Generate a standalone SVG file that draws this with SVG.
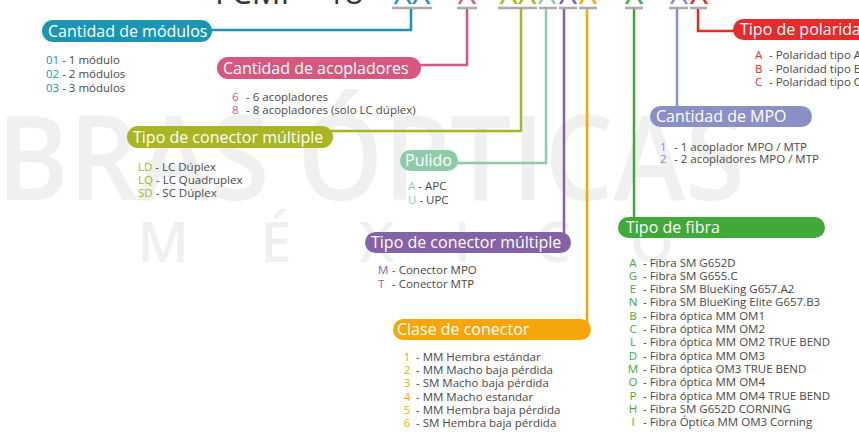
<svg xmlns="http://www.w3.org/2000/svg" width="859" height="442" viewBox="0 0 859 442">
<style>
.wm{font-family:"Open Sans","DejaVu Sans",sans-serif;font-weight:600;fill:#f0f0f0}
.title{font-family:"Open Sans","DejaVu Sans",sans-serif;font-size:32px;fill:#333}
.ul{stroke:#aaaaaa;stroke-width:2.5;fill:none}
.lab{font-family:"Open Sans","DejaVu Sans",sans-serif;font-size:16px;fill:#fff}
.it{font-family:"Open Sans","DejaVu Sans",sans-serif;font-size:11.5px;fill:#484848}
.con{fill:none;stroke-width:2.5}
</style>
<g id="watermark">
<text class="wm" x="-94" y="200" font-size="118" textLength="839" lengthAdjust="spacingAndGlyphs">FIBRAS ÓPTICAS</text>
<text class="wm" y="262" font-size="56" text-anchor="middle"><tspan x="163">M</tspan><tspan x="276">É</tspan><tspan x="377">X</tspan><tspan x="462">I</tspan><tspan x="553">C</tspan><tspan x="652">O</tspan></text>
</g>
<g id="title">
<text class="title" x="215" y="4">FCMP - 18 -</text>
<text class="title" y="4" text-anchor="middle"><tspan x="412" fill="#1b95b1">XX</tspan><tspan x="467" fill="#d6587f">X</tspan><tspan x="518" fill="#a9b523">XX</tspan><tspan x="547" fill="#8fcbab">X</tspan><tspan x="568" fill="#8462a8">X</tspan><tspan x="588" fill="#f5a70a">X</tspan><tspan x="634" fill="#41a83a">X</tspan><tspan x="679" fill="#8b8fc7">X</tspan><tspan x="699" fill="#e52b2b">X</tspan></text>
<path class="ul" d="M392 8H432M457 8H477M498 8H537M539 8H557M559 8H577M579 8H597M625 8H643M669 8H688M690 8H707"/>
</g>
<g id="connectors">
<polyline class="con" stroke="#1b95b1" points="411,9 411,30 210,30"/>
<polyline class="con" stroke="#d6587f" points="467,9 467,65 418,65"/>
<polyline class="con" stroke="#a9b523" points="521,9 521,131 330,131"/>
<polyline class="con" stroke="#8fcbab" points="546,9 546,163 455,163"/>
<polyline class="con" stroke="#8462a8" points="564,9 564,238"/>
<polyline class="con" stroke="#f5a70a" points="587,9 587,322"/>
<polyline class="con" stroke="#41a83a" points="634,9 634,220"/>
<polyline class="con" stroke="#8b8fc7" points="677,9 677,108"/>
<polyline class="con" stroke="#e52b2b" points="698,9 698,31 738,31"/>
</g>
<g id="modulos">
<rect x="42" y="20" width="170" height="22" rx="11" fill="#1b95b1"/>
<text class="lab" x="48" y="37">Cantidad de módulos</text>
<text class="it" x="46" y="64"><tspan fill="#1b95b1">01</tspan> - 1 módulo</text>
<text class="it" x="46" y="78"><tspan fill="#1b95b1">02</tspan> - 2 módulos</text>
<text class="it" x="46" y="92"><tspan fill="#1b95b1">03</tspan> - 3 módulos</text>
</g>
<g id="acopladores">
<rect x="217" y="57" width="204" height="22" rx="11" fill="#d6587f"/>
<text class="lab" x="223" y="74">Cantidad de acopladores</text>
<text class="it" x="232" y="101"><tspan fill="#d6587f">6</tspan><tspan x="246">- 6 acopladores</tspan></text>
<text class="it" x="232" y="114"><tspan fill="#d6587f">8</tspan><tspan x="246">- 8 acopladores  (solo LC dúplex)</tspan></text>
</g>
<g id="polaridad">
<rect x="733" y="19" width="150" height="21" rx="10.5" fill="#e52b2b"/>
<text class="lab" x="740" y="35">Tipo de polaridad</text>
<text class="it" x="755" y="59"><tspan fill="#e52b2b">A</tspan><tspan x="769">- Polaridad tipo A</tspan></text>
<text class="it" x="755" y="73"><tspan fill="#e52b2b">B</tspan><tspan x="769">- Polaridad tipo B</tspan></text>
<text class="it" x="755" y="86"><tspan fill="#e52b2b">C</tspan><tspan x="769">- Polaridad tipo C</tspan></text>
</g>
<g id="conector-multiple-1">
<rect x="127" y="126" width="206" height="22" rx="11" fill="#a9b523"/>
<text class="lab" x="133" y="143">Tipo de conector múltiple</text>
<text class="it" x="138" y="171"><tspan fill="#a9b523">LD</tspan> - LC Dúplex</text>
<text class="it" x="138" y="184"><tspan fill="#a9b523">LQ</tspan> - LC Quadruplex</text>
<text class="it" x="138" y="197"><tspan fill="#a9b523">SD</tspan> - SC Dúplex</text>
</g>
<g id="pulido">
<rect x="400" y="150" width="58" height="21" rx="10.5" fill="#8fcbab"/>
<text class="lab" x="405" y="166">Pulido</text>
<text class="it" x="408" y="190"><tspan fill="#8fcbab">A</tspan> - APC</text>
<text class="it" x="408" y="204"><tspan fill="#8fcbab">U</tspan> - UPC</text>
</g>
<g id="mpo">
<rect x="650" y="106" width="162" height="21" rx="10.5" fill="#8b8fc7"/>
<text class="lab" x="656" y="122">Cantidad de MPO</text>
<text class="it" x="660" y="151"><tspan fill="#8b8fc7">1</tspan><tspan x="674">- 1 acoplador MPO / MTP</tspan></text>
<text class="it" x="660" y="163"><tspan fill="#8b8fc7">2</tspan><tspan x="674">- 2 acopladores MPO / MTP</tspan></text>
</g>
<g id="fibra">
<rect x="618" y="217" width="207" height="21" rx="10.5" fill="#41a83a"/>
<text class="lab" x="626" y="233">Tipo de fibra</text>
<g class="it">
<text x="633" y="266.5" text-anchor="middle" fill="#41a83a">A</text><text x="643" y="266.5">- Fibra SM G652D</text>
<text x="633" y="279.8" text-anchor="middle" fill="#41a83a">G</text><text x="643" y="279.8">- Fibra SM G655.C</text>
<text x="633" y="293.1" text-anchor="middle" fill="#41a83a">E</text><text x="643" y="293.1">- Fibra SM BlueKing G657.A2</text>
<text x="633" y="306.4" text-anchor="middle" fill="#41a83a">N</text><text x="643" y="306.4">- Fibra SM BlueKing Elite G657.B3</text>
<text x="633" y="319.7" text-anchor="middle" fill="#41a83a">B</text><text x="643" y="319.7">- Fibra óptica MM OM1</text>
<text x="633" y="333" text-anchor="middle" fill="#41a83a">C</text><text x="643" y="333">- Fibra óptica MM OM2</text>
<text x="633" y="346.3" text-anchor="middle" fill="#41a83a">L</text><text x="643" y="346.3">- Fibra óptica MM OM2 TRUE BEND</text>
<text x="633" y="359.6" text-anchor="middle" fill="#41a83a">D</text><text x="643" y="359.6">- Fibra óptica MM OM3</text>
<text x="633" y="372.9" text-anchor="middle" fill="#41a83a">M</text><text x="643" y="372.9">- Fibra óptica OM3 TRUE BEND</text>
<text x="633" y="386.2" text-anchor="middle" fill="#41a83a">O</text><text x="643" y="386.2">- Fibra óptica MM OM4</text>
<text x="633" y="399.5" text-anchor="middle" fill="#41a83a">P</text><text x="643" y="399.5">- Fibra óptica MM OM4 TRUE BEND</text>
<text x="633" y="412.8" text-anchor="middle" fill="#41a83a">H</text><text x="643" y="412.8">- Fibra SM G652D CORNING</text>
<text x="633" y="426.1" text-anchor="middle" fill="#41a83a">I</text><text x="643" y="426.1">- Fibra Óptica MM OM3 Corning</text>
</g>
</g>
<g id="conector-multiple-2">
<rect x="365" y="232" width="206" height="21" rx="10.5" fill="#8462a8"/>
<text class="lab" x="371" y="248">Tipo de conector múltiple</text>
<text class="it" x="378" y="274"><tspan fill="#8462a8">M</tspan><tspan x="392">- Conector MPO</tspan></text>
<text class="it" x="378" y="288"><tspan fill="#8462a8">T</tspan><tspan x="392">- Conector MTP</tspan></text>
</g>
<g id="clase">
<rect x="393" y="319" width="198" height="21" rx="10.5" fill="#f5a70a"/>
<text class="lab" x="397" y="335">Clase de conector</text>
<g class="it">
<text x="407" y="361" text-anchor="middle" fill="#f5a70a">1</text><text x="416" y="361">- MM Hembra estándar</text>
<text x="407" y="374" text-anchor="middle" fill="#f5a70a">2</text><text x="416" y="374">- MM Macho baja pérdida</text>
<text x="407" y="387" text-anchor="middle" fill="#f5a70a">3</text><text x="416" y="387">- SM Macho baja pérdida</text>
<text x="407" y="401" text-anchor="middle" fill="#f5a70a">4</text><text x="416" y="401">- MM Macho estandar</text>
<text x="407" y="414" text-anchor="middle" fill="#f5a70a">5</text><text x="416" y="414">- MM Hembra baja pérdida</text>
<text x="407" y="427" text-anchor="middle" fill="#f5a70a">6</text><text x="416" y="427">- SM Hembra baja pérdida</text>
</g>
</g>
</svg>
